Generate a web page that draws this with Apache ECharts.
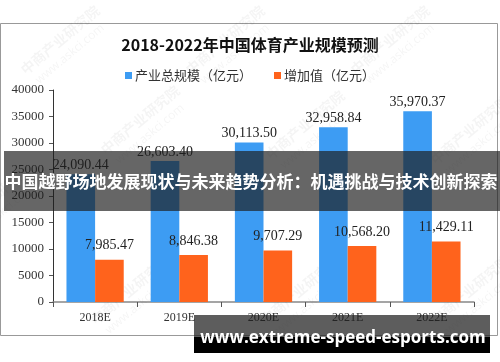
<!DOCTYPE html>
<html>
<head>
<meta charset="utf-8">
<script src="https://cdn.jsdelivr.net/npm/echarts@6/dist/echarts.min.js"></script>
<style>
html,body{margin:0;padding:0;background:#fff;}
#chart{width:500px;height:362px;}
</style>
</head>
<body>
<div id="chart"></div>
<script>
var categories = ['2018E', '2019E', '2020E', '2021E', '2022E'];
var totalScale = [24090.44, 26603.40, 30113.50, 32958.84, 35970.37];
var addedValue = [7985.47, 8846.38, 9707.29, 10568.20, 11429.11];
var seriesNames = ['产业总规模（亿元）', '增加值（亿元）'];
var yTicks = [0, 5000, 10000, 15000, 20000, 25000, 30000, 35000, 40000];
var chartTitle = '2018-2022年中国体育产业规模预测';
var overlayTitle = '中国越野场地发展现状与未来趋势分析：机遇挑战与技术创新探索';
var footerUrl = 'www.extreme-speed-esports.com';

function fmt(v) {
  var s = v.toFixed(2).split('.');
  return s[0].replace(/\B(?=(\d{3})+(?!\d))/g, ',') + '.' + s[1];
}

var chart = echarts.init(document.getElementById('chart'), null, {renderer: 'canvas'});

var watermarks = [];
var wmPos = [[60,40],[225,40],[390,40],[140,120],[305,125],[470,130],[-10,200],[130,290],[300,290],[470,290]];
wmPos.forEach(function (p) {
  watermarks.push({
    type: 'text', x: p[0], y: p[1], rotation: Math.PI * 40 / 180, z: 1, silent: true,
    style: {text: '中商产业研究院', fill: 'rgba(0,0,0,0.045)', font: 'bold 14px "Noto Sans CJK SC"', textAlign: 'center', textVerticalAlign: 'middle'}
  });
  watermarks.push({
    type: 'text', x: p[0] + 10, y: p[1] + 14, rotation: Math.PI * 40 / 180, z: 1, silent: true,
    style: {text: 'www.askci.com', fill: 'rgba(0,0,0,0.045)', font: '12px "Open Sans"', textAlign: 'center', textVerticalAlign: 'middle'}
  });
});

var option = {
  animation: false,
  backgroundColor: '#fff',
  title: {
    text: chartTitle,
    left: 'center', top: 32,
    textStyle: {fontFamily: '"Noto Sans CJK SC"', fontSize: 16, fontWeight: 'bold', color: '#111'}
  },
  legend: {
    data: seriesNames,
    top: 64, left: 'center',
    itemWidth: 7, itemHeight: 7, itemGap: 22,
    icon: 'rect',
    textStyle: {fontFamily: '"Noto Sans CJK SC"', fontSize: 13, color: '#333', padding: [0,0,0,-2]}
  },
  grid: {left: 53, right: 26, top: 90, bottom: 60, containLabel: false},
  xAxis: {
    type: 'category',
    data: categories,
    axisLine: {lineStyle: {color: '#888', width: 1.5}},
    axisTick: {show: true, alignWithLabel: false, length: 5, lineStyle: {color: '#555'}},
    axisLabel: {fontFamily: '"Liberation Serif"', fontSize: 12, color: '#333', margin: 10}
  },
  yAxis: {
    type: 'value',
    min: yTicks[0], max: yTicks[yTicks.length - 1], interval: yTicks[1] - yTicks[0],
    axisLine: {show: true, lineStyle: {color: '#333', width: 1}},
    axisTick: {show: true, length: 4, lineStyle: {color: '#555'}},
    splitLine: {show: false},
    axisLabel: {fontFamily: '"Liberation Serif"', fontSize: 13, color: '#333', margin: 9,
      formatter: function (v) { return String(v); }}
  },
  series: [
    {
      name: seriesNames[0], type: 'bar', data: totalScale,
      barGap: '0%', barCategoryGap: '32%',
      itemStyle: {color: '#3D9CF3'},
      label: {show: true, position: 'top', distance: 2, formatter: function (p) { return fmt(p.value); },
        fontFamily: '"Liberation Serif"', fontSize: 14, color: '#222'},
      z: 2
    },
    {
      name: seriesNames[1], type: 'bar', data: addedValue,
      itemStyle: {color: '#FF631C'},
      label: {show: true, position: 'top', distance: 7, formatter: function (p) { return fmt(p.value); },
        fontFamily: '"Liberation Serif"', fontSize: 14, color: '#222'},
      z: 2
    }
  ],
  graphic: watermarks.concat([
    {type: 'rect', shape: {x: 0.5, y: 23.5, width: 497, height: 312}, style: {fill: 'none', stroke: '#999', lineWidth: 1}, z: 0, silent: true},
    {type: 'rect', shape: {x: 4, y: 151, width: 496, height: 60}, style: {fill: 'rgba(30,30,30,0.68)'}, z: 100},
    {type: 'text', x: 251, y: 182, z: 101,
      style: {text: overlayTitle, fill: '#fff', font: 'bold 17px "Noto Sans CJK SC"', textAlign: 'center', textVerticalAlign: 'middle'}},
    {type: 'rect', shape: {x: 194, y: 315, width: 296, height: 22}, style: {fill: 'rgba(30,30,30,0.72)'}, z: 100},
    {type: 'rect', shape: {x: 194, y: 337, width: 296, height: 16}, style: {fill: '#000'}, z: 100},
    {type: 'text', x: 343, y: 338, z: 101,
      style: {text: footerUrl, fill: '#fff', font: 'bold 17px "Open Sans"', textAlign: 'center', textVerticalAlign: 'middle'}}
  ])
};
chart.setOption(option);
</script>
</body>
</html>
